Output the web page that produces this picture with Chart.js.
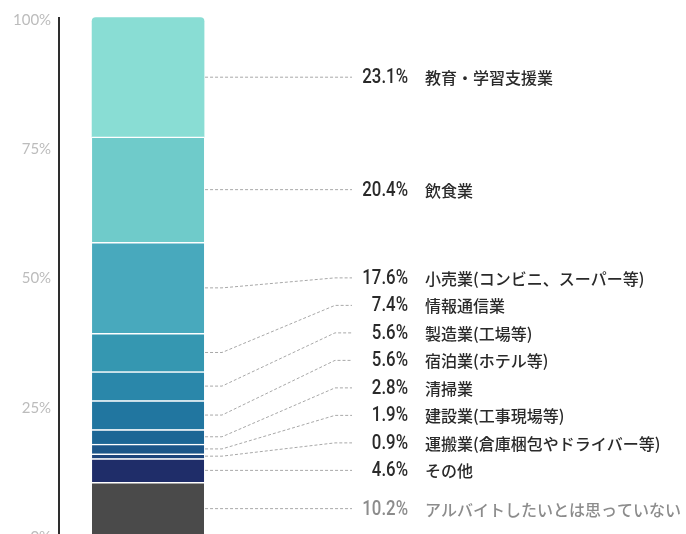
<!DOCTYPE html>
<html lang="ja">
<head>
<meta charset="utf-8">
<title>アルバイトしたい業種</title>
<script src="https://cdn.jsdelivr.net/npm/chart.js@4.4.1/dist/chart.umd.min.js"></script>
<style>
    html, body { margin: 0; padding: 0; background: #fff; overflow: hidden; }
    #wrap { width: 686px; height: 534px; overflow: hidden; }
</style>
</head>
<body>
<div id="wrap"><canvas id="industryChart" width="686" height="552"></canvas></div>
<script>
// 業種ごとの割合（上から順）
const categories = [
    '教育・学習支援業',
    '飲食業',
    '小売業(コンビニ、スーパー等)',
    '情報通信業',
    '製造業(工場等)',
    '宿泊業(ホテル等)',
    '清掃業',
    '建設業(工事現場等)',
    '運搬業(倉庫梱包やドライバー等)',
    'その他',
    'アルバイトしたいとは思っていない'
];
const shares = [23.1, 20.4, 17.6, 7.4, 5.6, 5.6, 2.8, 1.9, 0.9, 4.6, 10.2];
const yTicks = [0, 25, 50, 75, 100];

// 色（上から順）
const colors = [
    '#89ddd4', '#6fcbca', '#48a9bd', '#3597b1', '#2a87aa', '#2176a0',
    '#1c6695', '#1c5689', '#1d457c', '#1f2d69', '#4a4a4a'
];

// 積み上げは下から描くので逆順にする
const order = categories.map((c, i) => i).reverse();

const datasets = order.map(function (i) {
    const isTop = i === 0;
    return {
        label: categories[i],
        data: [shares[i]],
        backgroundColor: colors[i],
        borderColor: '#ffffff',
        borderWidth: isTop ? 0 : { top: 1.5, left: 0, right: 0, bottom: 0 },
        borderRadius: isTop ? { topLeft: 4, topRight: 4, bottomLeft: 0, bottomRight: 0 } : 0,
        borderSkipped: 'start',
        barThickness: 112,
        clip: false,
        catIndex: i
    };
});

// 引き出し線とラベル
const leaderPlugin = {
    id: 'leaders',
    beforeDatasetsDraw(chart) {
        const { ctx, chartArea } = chart;
        ctx.save();
        ctx.strokeStyle = '#e8e8e8';
        ctx.lineWidth = 1;
        ctx.beginPath();
        ctx.moveTo(chartArea.left, chartArea.bottom - 0.5);
        ctx.lineTo(chart.width, chartArea.bottom - 0.5);
        ctx.stroke();
        ctx.restore();
    },
    afterDatasetsDraw(chart) {
        const ctx = chart.ctx;
        const rowGap = 27.5;
        const marks = chart.data.datasets.map(function (ds, d) {
            const bar = chart.getDatasetMeta(d).data[0];
            const p = bar.getProps(['x', 'y', 'base', 'width'], true);
            return { idx: ds.catIndex, mid: (p.y + p.base) / 2, right: p.x + p.width / 2 };
        });
        // 下から順に重ならないように配置
        let prev = Infinity;
        marks.forEach(function (m) {
            m.labelY = Math.min(m.mid, prev - rowGap);
            prev = m.labelY;
        });

        marks.forEach(function (m) {
            const x0 = m.right + 1;
            const muted = m.idx === categories.length - 1;
            ctx.save();
            ctx.strokeStyle = '#a8a8a8';
            ctx.lineWidth = 1;
            ctx.setLineDash([3, 2]);
            ctx.beginPath();
            ctx.moveTo(x0, m.mid);
            ctx.lineTo(222, m.mid);
            ctx.lineTo(335, m.labelY);
            ctx.lineTo(352, m.labelY);
            ctx.stroke();
            ctx.restore();

            // 値
            ctx.save();
            ctx.translate(408, m.labelY + 1);
            ctx.scale(0.84, 1);
            ctx.font = '500 20px Roboto';
            ctx.fillStyle = muted ? '#8c8c8c' : '#2a2a2a';
            ctx.textAlign = 'right';
            ctx.textBaseline = 'middle';
            ctx.fillText(shares[m.idx].toFixed(1) + '%', 0, 0);
            ctx.restore();

            // 業種名
            ctx.save();
            ctx.font = '500 16px "Noto Sans CJK JP"';
            ctx.fillStyle = muted ? '#8c8c8c' : '#2a2a2a';
            ctx.textAlign = 'left';
            ctx.textBaseline = 'middle';
            ctx.fillText(categories[m.idx], 425, m.labelY + 1);
            ctx.restore();
        });
    }
};

const ctx = document.getElementById('industryChart').getContext('2d');
new Chart(ctx, {
    type: 'bar',
    data: {
        labels: ['全体'],
        datasets: datasets
    },
    options: {
        responsive: false,
        animation: false,
        layout: {
            padding: { top: 18, bottom: 0, left: 5, right: 449 }
        },
        plugins: {
            legend: { display: false },
            tooltip: { enabled: false }
        },
        scales: {
            x: {
                stacked: true,
                display: false
            },
            y: {
                stacked: true,
                min: 0,
                max: 100,
                afterBuildTicks: function (scale) {
                    scale.ticks = yTicks.map(function (v) { return { value: v }; });
                },
                grid: { display: false, drawTicks: false },
                border: { display: true, color: '#2e2e2e', width: 2 },
                ticks: {
                    padding: 8,
                    labelOffset: 2,
                    color: '#bcbcbc',
                    font: { family: 'Lato', size: 15 },
                    callback: function (v) { return v + '%'; }
                }
            }
        }
    },
    plugins: [leaderPlugin]
});
</script>
</body>
</html>
